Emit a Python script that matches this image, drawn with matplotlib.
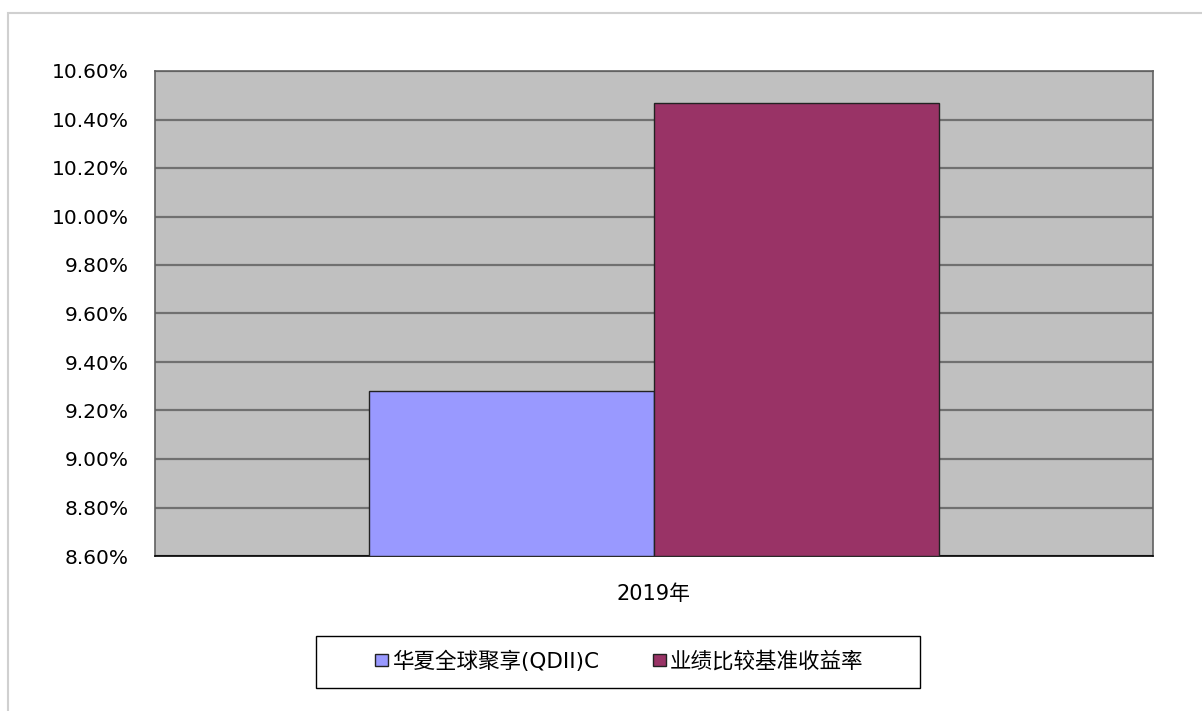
import matplotlib
matplotlib.use("Agg")
import matplotlib.pyplot as plt
from matplotlib.patches import Rectangle
from matplotlib.ticker import FuncFormatter, MultipleLocator

plt.rcParams['font.family'] = ['DejaVu Sans', 'Noto Sans CJK SC']

# data
categories = ['2019年']
series_names = ['华夏全球聚享(QDII)C', '业绩比较基准收益率']
series_values = [[9.28], [10.47]]
series_colors = ['#9999ff', '#993366']

W, H = 1202, 711
fig = plt.figure(figsize=(W / 100, H / 100), dpi=100)
fig.patch.set_facecolor('white')

# light outer border of the chart area
fig.patches.append(Rectangle((8 / W, -0.1), 1.2, 1 - 13 / H + 0.1,
                             transform=fig.transFigure, fill=False,
                             edgecolor='#d0d0d0', linewidth=1.5))

ax = fig.add_axes([155 / W, 1 - 556 / H, 998 / W, 485 / H])
ax.set_facecolor('#c0c0c0')

bar_w = 0.2855
offsets = [-bar_w / 2, bar_w / 2]
for name, vals, col, off in zip(series_names, series_values, series_colors, offsets):
    xs = [i + off for i in range(len(categories))]
    heights = [v - 8.6 for v in vals]
    ax.bar(xs, heights, bottom=8.6, width=bar_w, color=col, edgecolor='#222222',
           linewidth=1, label=name, zorder=3)

ax.set_xlim(-0.5, len(categories) - 0.5)
ax.set_ylim(8.6, 10.6)
ax.yaxis.set_major_locator(MultipleLocator(0.2))
ax.yaxis.set_major_formatter(FuncFormatter(lambda v, p: f'{v:.2f}%'))
ax.set_xticks(range(len(categories)))
ax.set_xticklabels(categories, fontsize=15)
ax.tick_params(axis='x', length=0, pad=20)
ax.tick_params(axis='y', length=0, labelsize=14.5, pad=19)
ax.grid(axis='y', color='#707070', linewidth=1.6, zorder=0)
ax.set_axisbelow(True)
for s in ['top', 'right', 'left']:
    ax.spines[s].set_color('#606060')
    ax.spines[s].set_linewidth(1.2)
ax.spines['bottom'].set_color('#000000')
ax.spines['bottom'].set_linewidth(1.2)

# legend box drawn separately
fig.patches.append(Rectangle((316 / W, 1 - 688 / H), 604 / W, 52 / H,
                             transform=fig.transFigure, facecolor='white',
                             edgecolor='#000000', linewidth=1.0))
leg = fig.legend(loc='center', bbox_to_anchor=(619 / W, 1 - 661 / H),
                 ncol=2, fontsize=15.5, frameon=False,
                 handlelength=0.6, handleheight=0.42, handletextpad=0.2,
                 columnspacing=2.5, borderpad=0.0, borderaxespad=0.0)

fig.savefig('out.png', dpi=100)
